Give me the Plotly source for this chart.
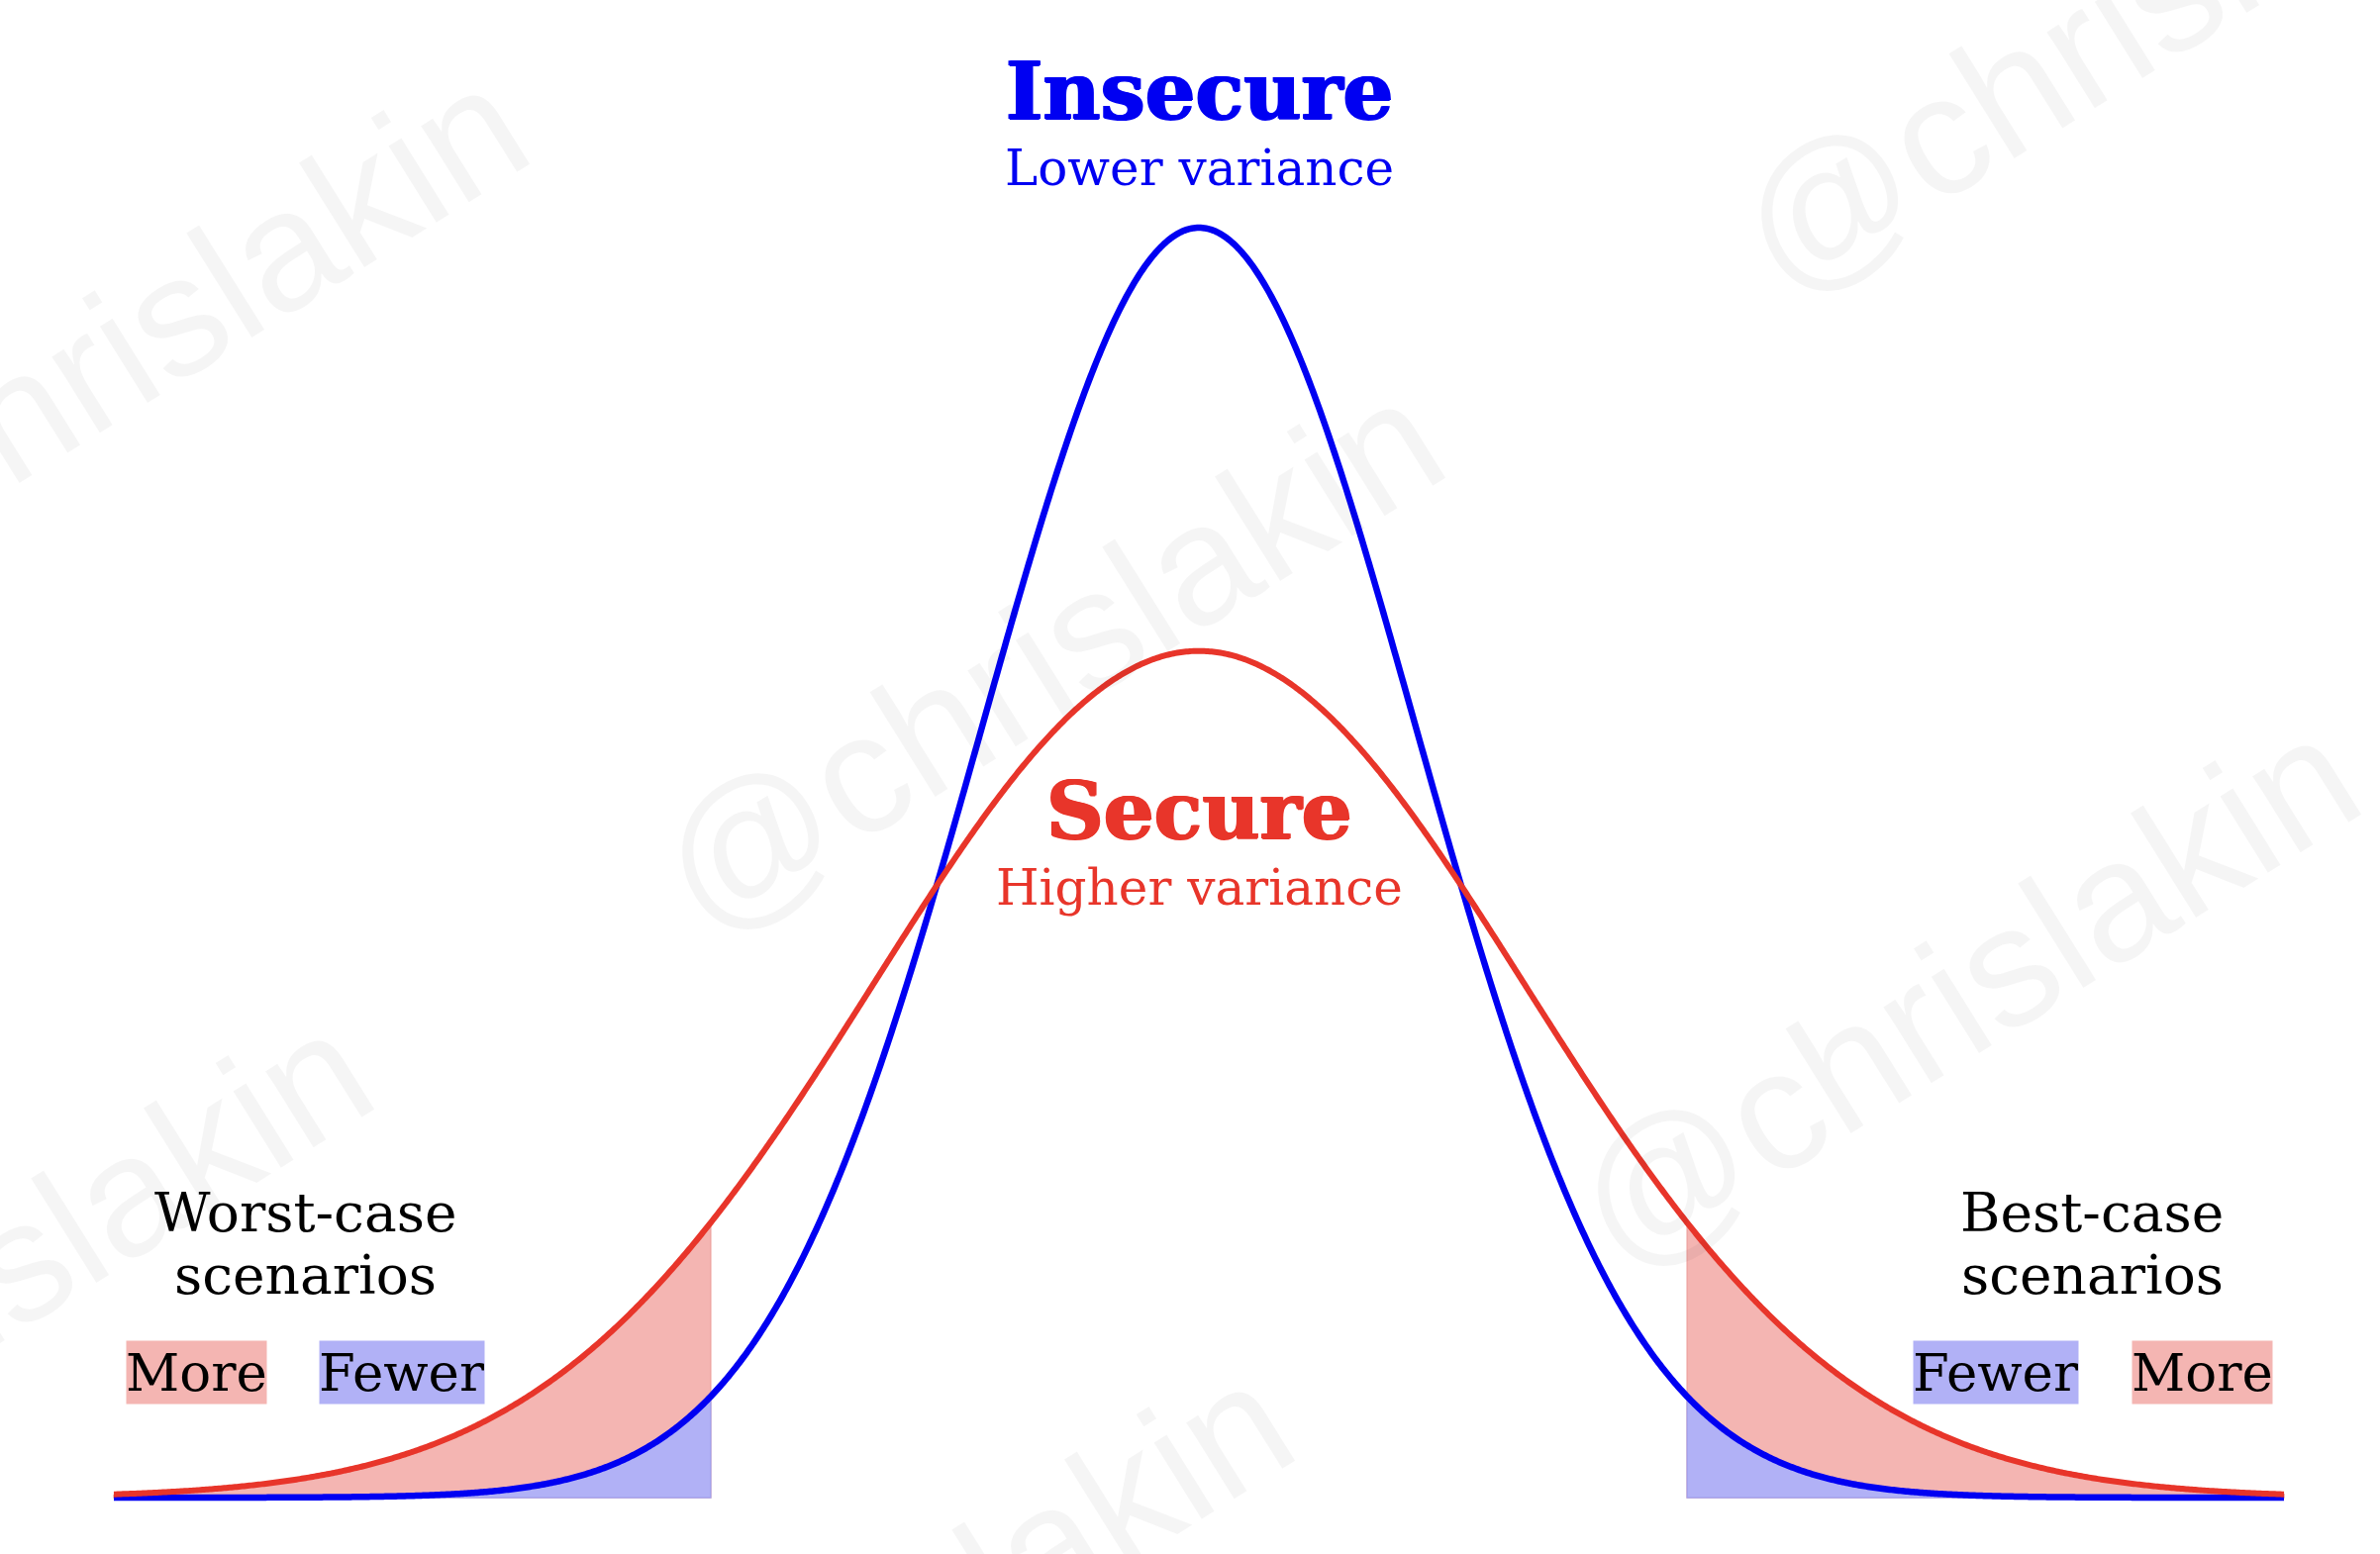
import numpy as np
import plotly.graph_objects as go

# ---- data -------------------------------------------------------------
SERIES_NAMES = ["Insecure", "Secure"]
SERIES_SUBTITLES = ["Lower variance", "Higher variance"]
SERIES_MEAN = [0.0, 0.0]
SERIES_SIGMA = [1.0, 1.5]          # secure = higher variance
X_RANGE = [-5.0, 5.0]
TAIL_CUT = 2.25                      # worst / best case thresholds (± sigma of insecure)
LEFT_LABELS = ["More", "Fewer"]      # worst-case: secure / insecure
RIGHT_LABELS = ["Fewer", "More"]     # best-case: insecure / secure
SCENARIO_TITLES = ["Worst-case<br>scenarios", "Best-case<br>scenarios"]
WATERMARK = "@chrislakin"

# ---- styles -----------------------------------------------------------
W, H = 2404, 1570
BLUE = "#0000F2"
RED = "#E8352A"
PINK = "#F4B5B2"
LAV = "#B1B1F6"
PINK_EDGE = "#EFA6A3"
LAV_EDGE = "#A3A3EF"
SERIF = "DejaVu Serif"

def pdf(x, mu, s):
    return np.exp(-0.5 * ((x - mu) / s) ** 2) / (s * np.sqrt(2 * np.pi))

x = np.linspace(X_RANGE[0], X_RANGE[1], 1201)
curves = [pdf(x, m, s) for m, s in zip(SERIES_MEAN, SERIES_SIGMA)]
blue_y, red_y = curves

fig = go.Figure()

def tail_polygon(yvals, lo, hi):
    m = (x >= lo - 1e-9) & (x <= hi + 1e-9)
    xs = x[m]
    ys = yvals[m]
    px = np.concatenate([xs, [xs[-1], xs[0], xs[0]]])
    py = np.concatenate([ys, [0.0, 0.0, ys[0]]])
    return px, py

for lo, hi in [(X_RANGE[0], -TAIL_CUT), (TAIL_CUT, X_RANGE[1])]:
    px, py = tail_polygon(red_y, lo, hi)
    fig.add_trace(go.Scatter(x=px, y=py, mode="lines", fill="toself",
                             fillcolor=PINK, line=dict(color=PINK_EDGE, width=1.5, simplify=False),
                             hoverinfo="skip", showlegend=False))
for lo, hi in [(X_RANGE[0], -TAIL_CUT), (TAIL_CUT, X_RANGE[1])]:
    px, py = tail_polygon(blue_y, lo, hi)
    fig.add_trace(go.Scatter(x=px, y=py, mode="lines", fill="toself",
                             fillcolor=LAV, line=dict(color=LAV_EDGE, width=1.5, simplify=False),
                             hoverinfo="skip", showlegend=False))

fig.add_trace(go.Scatter(x=x, y=blue_y, mode="lines", name=SERIES_NAMES[0],
                         line=dict(color=BLUE, width=6.5, simplify=False), showlegend=False))
fig.add_trace(go.Scatter(x=x, y=red_y, mode="lines", name=SERIES_NAMES[1],
                         line=dict(color=RED, width=6, simplify=False), showlegend=False))

# pixel mapping (margins are zero)
PX_LEFT, PX_RIGHT = 115, 2307
PX_BASE, PX_PEAK = 1513, 230
ux = (PX_RIGHT - PX_LEFT) / (X_RANGE[1] - X_RANGE[0])
uy = (PX_BASE - PX_PEAK) / pdf(0, 0, SERIES_SIGMA[0])
xr = [X_RANGE[0] - PX_LEFT / ux, X_RANGE[1] + (W - PX_RIGHT) / ux]
yr = [-(H - PX_BASE) / uy, PX_BASE / uy]

def px2paper(px, py):
    return px / W, 1 - py / H

ann = []

def text(px, py, t, size, color="black", bold=False, family=SERIF, **kw):
    xp, yp = px2paper(px, py)
    f = dict(family=family, size=size, color=color,
             weight="bold" if bold else "normal")
    if bold:
        f["shadow"] = f"1.2px 0px 0px {color}, -1.2px 0px 0px {color}, 0px 1px 0px {color}"
    d = dict(x=xp, y=yp, xref="paper", yref="paper", text=t, showarrow=False,
             xanchor="center", yanchor="middle", font=f)
    d.update(kw)
    ann.append(d)

# watermarks
for cx, cy in [(135, 345), (1060, 662), (2150, 17), (1985, 1002), (-22, 1300), (908, 1655)]:
    text(cx, cy, WATERMARK, 172, color="rgba(0,0,0,0.04)",
         family="Liberation Sans, Arial", textangle=-32)

# series titles
text(1211, 92, SERIES_NAMES[0], 80, BLUE, bold=True)
text(1211, 170, SERIES_SUBTITLES[0], 50, BLUE)
text(1211, 819, SERIES_NAMES[1], 80, RED, bold=True)
text(1211, 897, SERIES_SUBTITLES[1], 50, RED)

# scenario titles
for cx, t in zip([308, 2113], SCENARIO_TITLES):
    parts = t.split("<br>")
    text(cx, 1225, parts[0], 55)
    text(cx, 1288, parts[1], 55)

# boxed labels
def box(cx, label, bg):
    w = 141 if label == "More" else 166
    text(cx, 1386.5, label, 53, bgcolor=bg, width=w, height=63, borderpad=0)

box(198, LEFT_LABELS[0], PINK)
box(406, LEFT_LABELS[1], LAV)
box(2016, RIGHT_LABELS[0], LAV)
box(2224, RIGHT_LABELS[1], PINK)

fig.update_layout(
    width=W, height=H,
    margin=dict(l=0, r=0, t=0, b=0),
    paper_bgcolor="white", plot_bgcolor="white",
    xaxis=dict(range=xr, visible=False, showgrid=False, zeroline=False),
    yaxis=dict(range=yr, visible=False, showgrid=False, zeroline=False),
    annotations=ann,
    showlegend=False,
)

fig.write_html("out.html", config={"displayModeBar": False},
               post_script="document.body.style.margin='0';")
